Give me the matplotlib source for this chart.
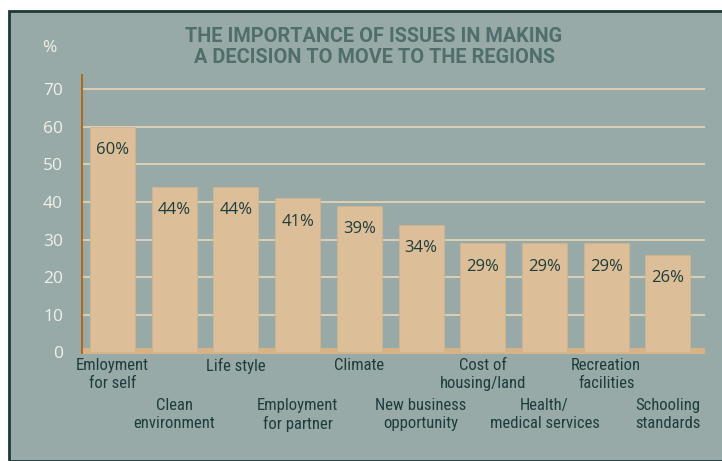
import matplotlib
matplotlib.use("Agg")
import matplotlib.pyplot as plt
from matplotlib.patches import Rectangle
import matplotlib.transforms as mtransforms
from matplotlib import font_manager

categories = ["Emloyment\nfor self", "Clean\nenvironment", "Life style", "Employment\nfor partner",
              "Climate", "New business\nopportunity", "Cost of\nhousing/land", "Health/\nmedical services",
              "Recreation\nfacilities", "Schooling\nstandards"]
values = [60, 44, 44, 41, 39, 34, 29, 29, 29, 26]
yticks = [0, 10, 20, 30, 40, 50, 60, 70]

W, H = 722, 461
BG = "#97aaa8"
BAR = "#dcbf98"
GRID = "#e2d3b6"
AXIS = "#b06a1c"
BORDER = "#1d3838"
TITLE = "#4f6e6c"
DARK = "#1e3c3c"

installed = {f.name for f in font_manager.fontManager.ttflist}
narrow_pref = [n for n in ["Roboto Condensed", "Liberation Sans Narrow", "Open Sans Condensed",
                           "Roboto"] if n in installed]
NARROW = narrow_pref + ["DejaVu Sans"]
TFONT = [n for n in ["Roboto"] if n in installed] + ["DejaVu Sans"]
LIGHT = ["Open Sans", "DejaVu Sans"]

fig = plt.figure(figsize=(W/100, H/100), dpi=100)
fig.patch.set_facecolor("white")
fig.add_artist(Rectangle((9/W, 0), 1.2, 1 - 11/H, transform=fig.transFigure,
                         facecolor=BG, edgecolor=BORDER, linewidth=2, zorder=0))

ax = fig.add_axes([81/W, 1 - 354/H, (705-81)/W, (354-74)/H])
ax.set_facecolor("none")
ax.set_xlim(-0.51, 9.60)
ax.set_ylim(-0.5, 74.1)
for s in ax.spines.values():
    s.set_visible(False)
ax.axvline(-0.51, color=AXIS, linewidth=2.2, zorder=3)

for t in yticks[1:]:
    ax.axhline(t, color=GRID, linewidth=1.3, zorder=1)
ax.axhspan(-0.5, 1.0, color="#d6b285", zorder=2, lw=0)

x = list(range(len(values)))
ax.bar(x, values, width=0.73, color=BAR, edgecolor="#d2b48e", linewidth=0.6, zorder=2)
for i, v in enumerate(values):
    ax.text(i, v - 6.2, f"{v}%", ha="center", va="center", fontsize=12,
            color=DARK, family=LIGHT, zorder=4)

ax.set_yticks(yticks)
ax.set_yticklabels([str(t) for t in yticks], fontsize=12.5, color="#f2f0ea", family=LIGHT)
ax.tick_params(axis="y", length=0, pad=13)
ax.set_xticks([])

blend = mtransforms.blended_transform_factory(ax.transData, fig.transFigure)
for i, c in enumerate(categories):
    ypix = 358 if i % 2 == 0 else 398
    ax.text(i, 1 - ypix/H, c, ha="center", va="top", fontsize=12, color=DARK, family=NARROW,
            linespacing=1.25, transform=blend)

fig.text(374/W, 1 - 47/H, "THE IMPORTANCE OF ISSUES IN MAKING\nA DECISION TO MOVE TO THE REGIONS",
         ha="center", va="center", fontsize=14.3, fontweight="bold", color=TITLE, family=TFONT,
         linespacing=1.08)
fig.text(49/W, 1 - 48/H, "%", ha="center", va="center", fontsize=12.5, color="#f2f0ea",
         family=LIGHT)

fig.savefig("out.png", dpi=100, facecolor=fig.get_facecolor())
